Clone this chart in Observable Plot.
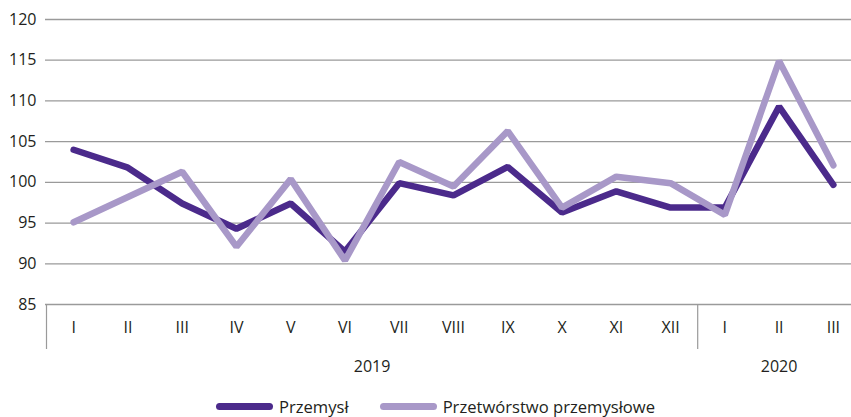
<!DOCTYPE html>
<html>
<head>
<meta charset="utf-8">
<script src="https://cdn.jsdelivr.net/npm/d3@7"></script>
<script src="https://cdn.jsdelivr.net/npm/@observablehq/plot@0.6"></script>
<style>
  html, body { margin: 0; padding: 0; background: #fff; }
  body { width: 851px; font-family: "Open Sans", "Noto Sans", sans-serif; }
  .legend { display: flex; justify-content: center; align-items: center; height: 22px; padding-top: 5px; font-size: 16.6px; color: #231f20; margin-left: 20px; }
  .legend .item { display: flex; align-items: center; }
  .legend .sw { width: 57px; height: 7px; border-radius: 4px; margin-right: 6px; }
  .legend .item + .item { margin-left: 31px; }
</style>
</head>
<body>
<div id="chart"></div>
<div class="legend" id="legend"></div>
<script>
const months = ["I","II","III","IV","V","VI","VII","VIII","IX","X","XI","XII","I","II","III"];
const years = ["2019", "2020"];
const yearMonthCounts = [12, 3];
const seriesNames = ["Przemysł", "Przetwórstwo przemysłowe"];
const przemysl = [104.0, 101.8, 97.4, 94.3, 97.4, 91.5, 99.9, 98.4, 101.9, 96.3, 98.9, 96.9, 96.9, 109.3, 99.7];
const przetworstwo = [95.1, 98.2, 101.3, 92.1, 100.4, 90.4, 102.5, 99.5, 106.3, 96.9, 100.7, 99.9, 96.0, 114.9, 102.1];
const colors = ["#4b2a8b", "#a898c8"];
const yTicks = [85, 90, 95, 100, 105, 110, 115, 120];

const data = [];
months.forEach((m, i) => {
  data.push({i, series: seriesNames[0], value: przemysl[i]});
  data.push({i, series: seriesNames[1], value: przetworstwo[i]});
});

// year group centers and boundaries
const yearLabels = [];
const boundaries = [-0.5];
let start = 0;
years.forEach((y, k) => {
  const n = yearMonthCounts[k];
  yearLabels.push({x: start + (n - 1) / 2, label: y});
  start += n;
  if (k < years.length - 1) boundaries.push(start - 0.5);
});

const chart = Plot.plot({
  width: 851,
  height: 390,
  marginLeft: 45,
  marginRight: 0,
  marginTop: 19,
  marginBottom: 86,
  style: {fontFamily: "'Open Sans', 'Noto Sans', sans-serif", fontSize: "16px", color: "#231f20", background: "#fff"},
  x: {domain: [-0.5, months.length - 0.5], range: [46, 860]},
  y: {domain: [85, 120]},
  color: {domain: seriesNames, range: colors},
  marks: [
    Plot.gridY(yTicks, {stroke: "#9a9a9a", strokeOpacity: 1, strokeWidth: 1.3}),
    Plot.axisY({ticks: yTicks, tickSize: 0, tickPadding: 9, label: null, fontSize: 16}),
    Plot.axisX({ticks: d3.range(months.length), tickFormat: i => months[i], tickSize: 0, tickPadding: 17, label: null, fontSize: 16}),
    Plot.axisX({ticks: boundaries, tickFormat: () => "", tickSize: 45, stroke: "#9a9a9a", strokeWidth: 1.2, label: null}),
    Plot.text(yearLabels, {x: "x", y: () => 85, text: "label", dy: 62, fontSize: 16, fill: "#231f20"}),
    Plot.line(data, {x: "i", y: "value", z: "series", stroke: "series", strokeWidth: 6.5, strokeLinejoin: "miter", strokeLinecap: "round"})
  ]
});
document.getElementById("chart").appendChild(chart);

const legend = document.getElementById("legend");
seriesNames.forEach((name, k) => {
  const item = document.createElement("div");
  item.className = "item";
  const sw = document.createElement("div");
  sw.className = "sw";
  sw.style.background = colors[k];
  const t = document.createElement("span");
  t.textContent = name;
  item.appendChild(sw);
  item.appendChild(t);
  legend.appendChild(item);
});
</script>
</body>
</html>
